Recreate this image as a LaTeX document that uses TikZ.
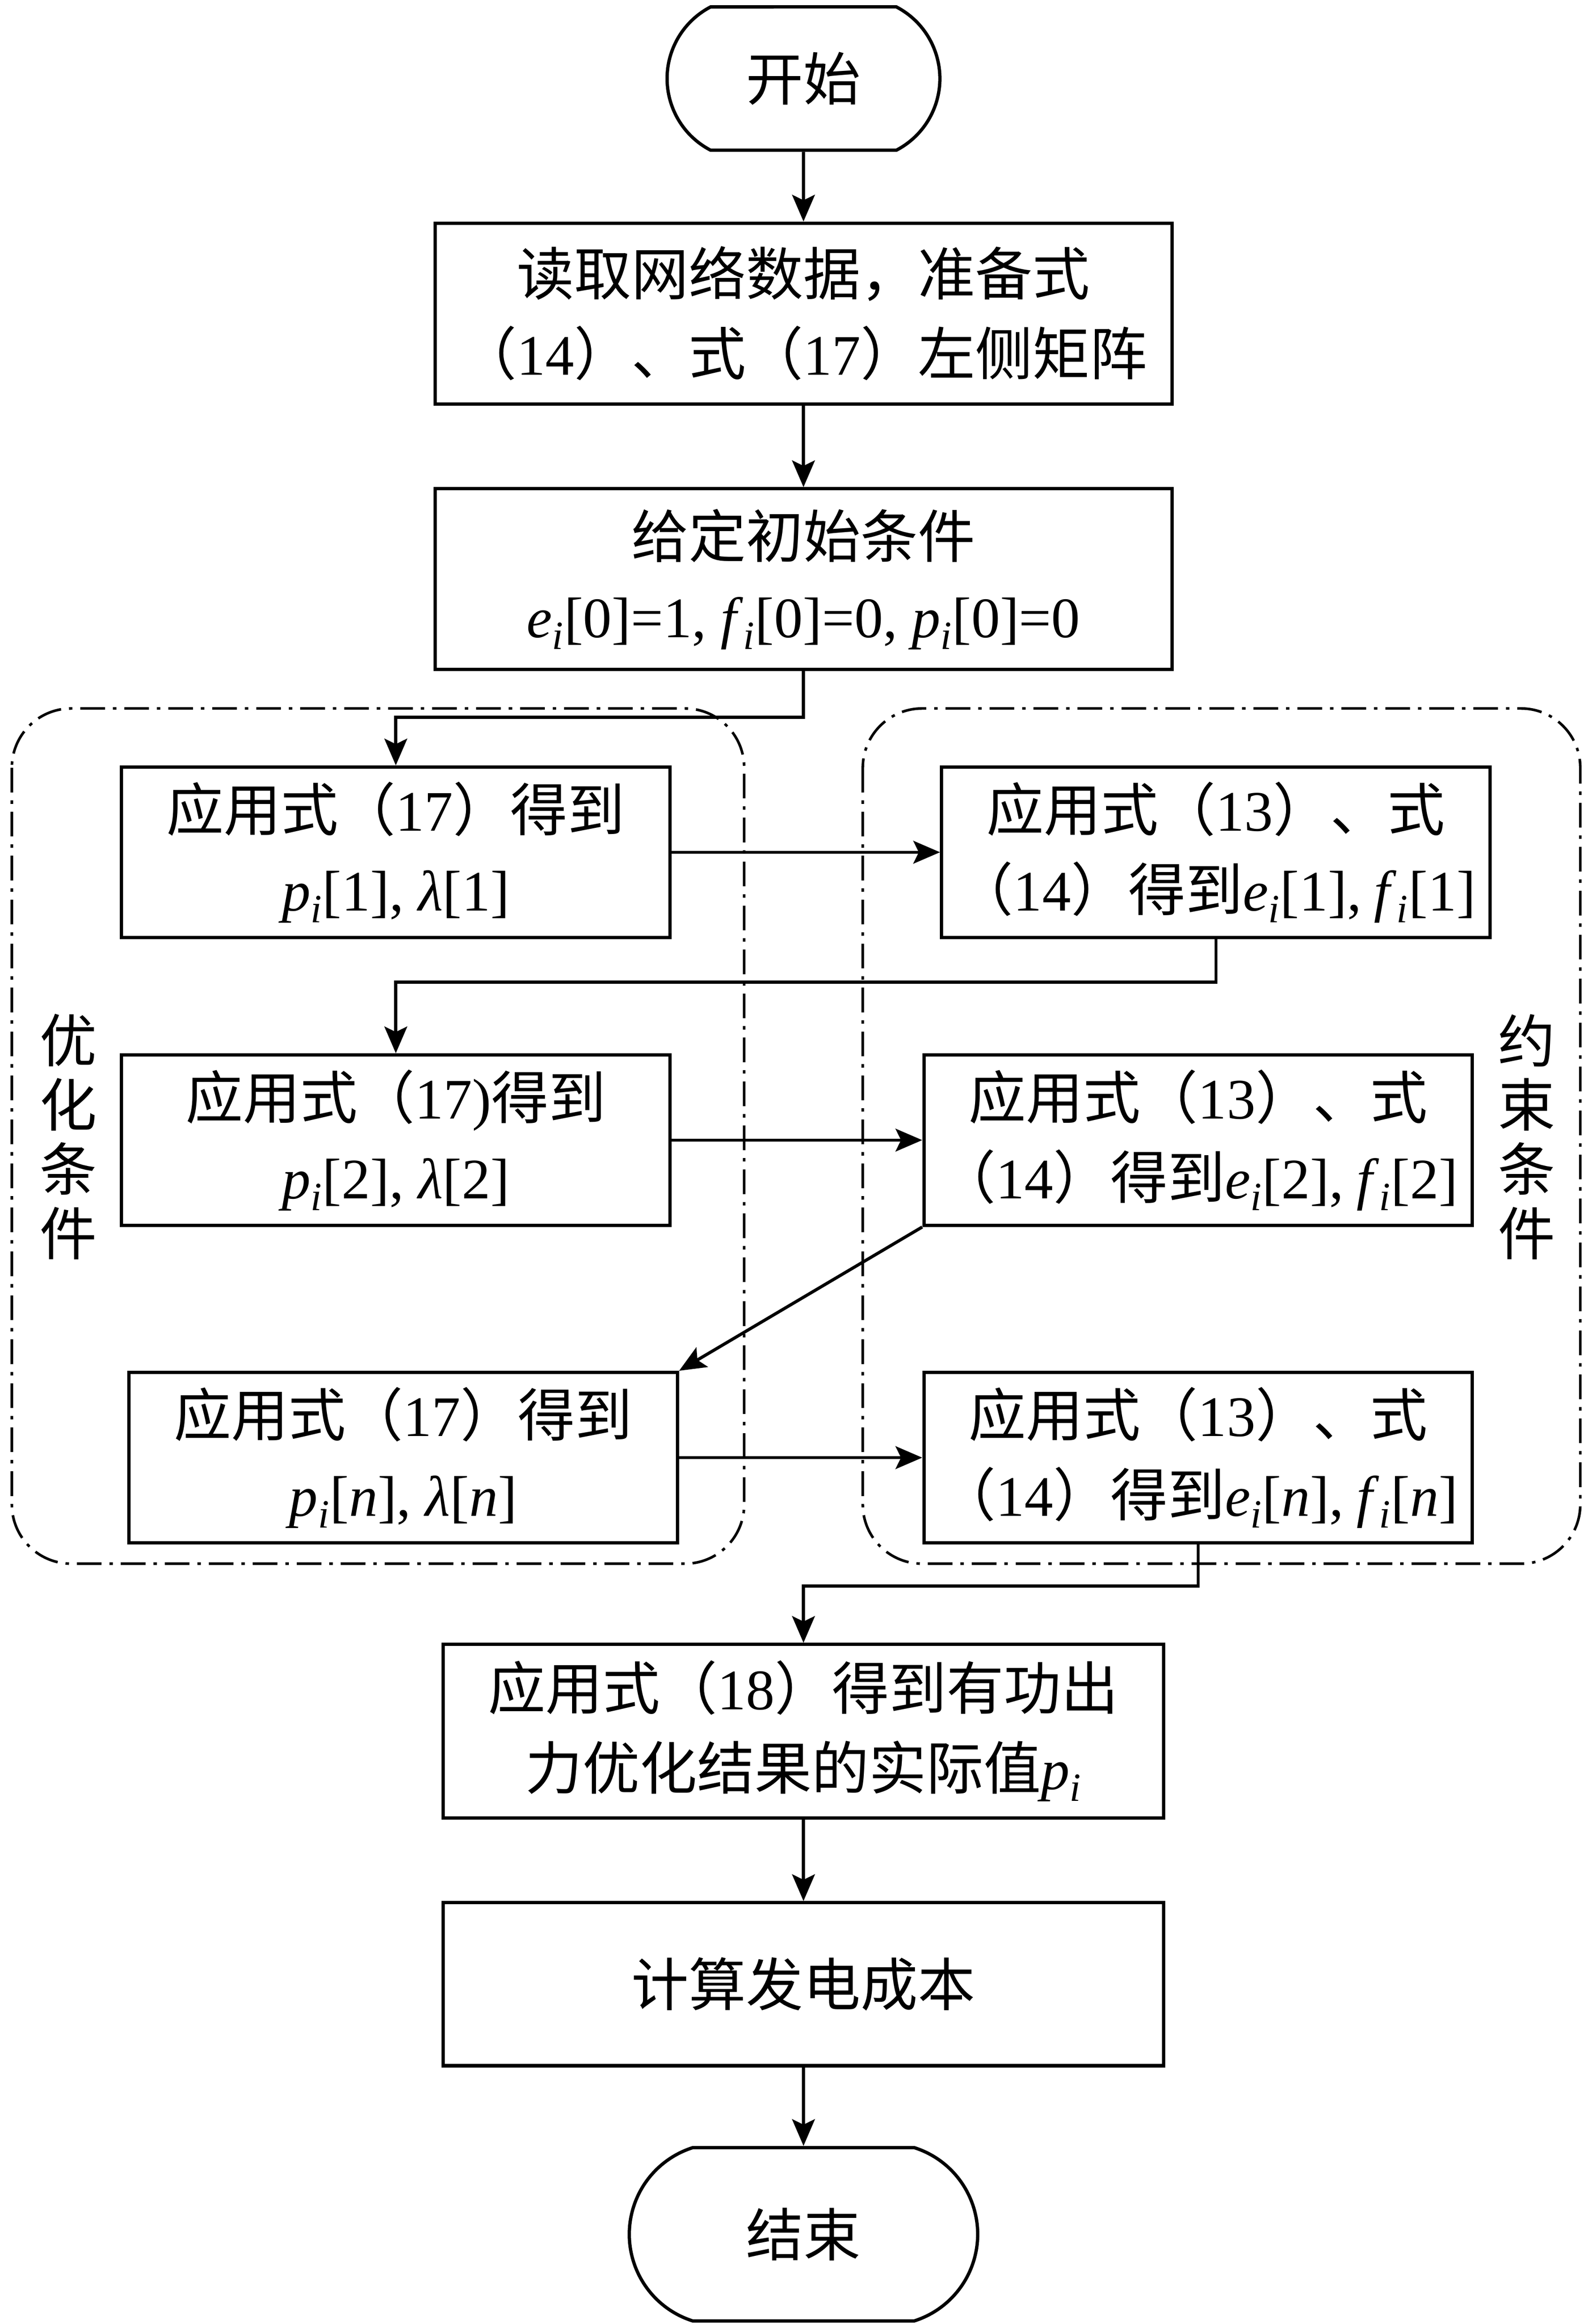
\documentclass[tikz,border=0pt]{standalone}
\usepackage{fontspec}
\setmainfont{Noto Sans CJK SC}
\newfontfamily\tnr{Liberation Serif}
\usetikzlibrary{shapes.misc,
                arrows.meta,
                positioning}
\newcommand\tm[1]{{\tnr #1}}
\newcommand\sv[2]{{\tnr\textit{#1}\textsubscript{\textit{#2}}}}
\tikzset{block/.style=
   {rectangle,
    draw,
    line width=1.9pt,
    align=center,
    inner sep=0pt,
    font=\fontsize{33pt}{46pt}\selectfont}}
\tikzset{terminal/.style=
   {rounded rectangle,
    draw,
    line width=1.9pt,
    inner sep=0pt,
    font=\fontsize{33pt}{46pt}\selectfont}}
\tikzset{wideblock/.style=
   {block,
    minimum width=149.1mm,
    minimum height=36.6mm}}
\tikzset{smallblock/.style=
   {block,
    minimum width=111mm,
    minimum height=34.5mm}}
\tikzset{group/.style=
   {draw,
    line width=1.5pt,
    rounded corners=12mm,
    dash pattern=on 5mm off 1.6mm on 0.7mm off 1.6mm}}
\tikzset{sidelabel/.style=
   {align=center,
    inner sep=0pt,
    font=\fontsize{33pt}{37pt}\selectfont}}
\tikzset{arrow/.style = {draw, line width=1.8pt,
    -{Stealth[length=5.4mm,width=4.6mm,inset=1.1mm]}}}

\begin{document}
\begin{tikzpicture}[x=0.3mm, y=-0.3mm]

    \useasboundingbox (0,0) rectangle (1071,1568);

    % groups
    \draw [group] (8,478) rectangle (502,1055);
    \draw [group] (582,478) rectangle (1066,1055);

    \node [sidelabel] (optlabel) at (46,767) {优\\化\\条\\件};
    \node [sidelabel] (conlabel) at (1030,767) {约\\束\\条\\件};

    % main column
    \node [terminal,
           rounded rectangle arc length=125,
           minimum width=55.2mm,
           minimum height=29mm] (start) at (542,53) {开始};

    \node [wideblock,
           node distance = 14.1mm,
           below = of start] (read)
    {读取网络数据，准备式\\
     （\tm{14}）、式（\tm{17}）左侧矩阵};

    \node [wideblock,
           node distance = 16.5mm,
           below = of read] (init)
    {给定初始条件\\
     \tm{\sv{e}{i}[0]=1, \sv{f}{i}[0]=0, \sv{p}{i}[0]=0}};

    % iterations
    \node [smallblock] (opt1) at (267,575)
    {应用式（\tm{17}）得到\\
     \tm{\sv{p}{i}[1], \textit{λ}[1]}};

    \node [smallblock,
           node distance = 54.3mm,
           right = of opt1] (con1)
    {应用式（\tm{13}）、式\\
     （\tm{14}）得到\sv{e}{i}\tm{[1],} \sv{f}{i}\tm{[1]}};

    \node [smallblock,
           node distance = 23.1mm,
           below = of opt1] (opt2)
    {应用式（\tm{17)}得到\\
     \tm{\sv{p}{i}[2], \textit{λ}[2]}};

    \node [smallblock,
           node distance = 50.7mm,
           right = of opt2] (con2)
    {应用式（\tm{13}）、式\\
     （\tm{14}）得到\sv{e}{i}\tm{[2],} \sv{f}{i}\tm{[2]}};

    \node [smallblock,
           node distance = 29.1mm,
           below = of opt2,
           xshift=1.5mm] (optn)
    {应用式（\tm{17}）得到\\
     \tm{\sv{p}{i}[\textit{n}], \textit{λ}[\textit{n}]}};

    \node [smallblock,
           node distance = 49.2mm,
           right = of optn] (conn)
    {应用式（\tm{13}）、式\\
     （\tm{14}）得到\sv{e}{i}\tm{[\textit{n}],} \sv{f}{i}\tm{[\textit{n}]}};

    % result
    \node [block,
           minimum width=145.8mm,
           minimum height=35.1mm] (result) at (542,1168)
    {应用式（\tm{18}）得到有功出\\
     力优化结果的实际值\sv{p}{i}};

    \node [block,
           minimum width=145.8mm,
           minimum height=33mm,
           node distance = 16.5mm,
           below = of result] (cost)
    {计算发电成本};

    \node [terminal,
           rounded rectangle arc length=145,
           minimum width=70.5mm,
           minimum height=35.1mm,
           node distance = 15.9mm,
           below = of cost] (end)
    {结束};

    % connectors
    \draw [arrow] (start) -- (read);
    \draw [arrow] (read) -- (init);
    \draw [arrow] (init.south) -- ++(0,31) -| (opt1.north);
    \draw [arrow] (opt1) -- (con1);
    \draw [arrow] (con1.south) -- ++(0,29) -| (opt2.north);
    \draw [arrow] (opt2) -- (con2);
    \draw [arrow] (con2.south west) -- (optn.north east);
    \draw [arrow] (optn) -- (conn);
    \draw [arrow] (conn.south) -- ++(0,28) -| (result.north);
    \draw [arrow] (result) -- (cost);
    \draw [arrow] (cost) -- (end);

\end{tikzpicture}
\end{document}
